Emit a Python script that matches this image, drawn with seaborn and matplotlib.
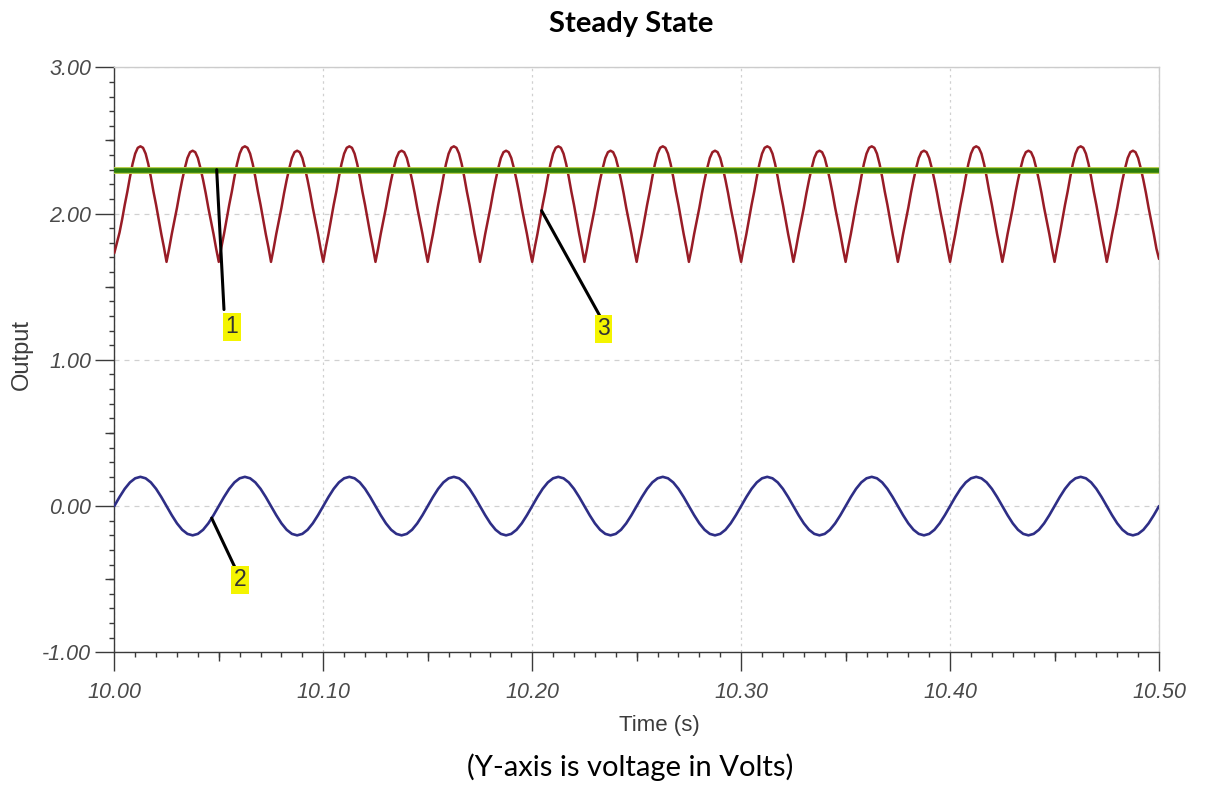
import numpy as np
import pandas as pd
import matplotlib
matplotlib.use("Agg")
import matplotlib.pyplot as plt
from matplotlib.ticker import MultipleLocator, NullLocator, FixedLocator
import seaborn as sns

# ---------------------------------------------------------------------------
# Data (volts). Sampled every 1.25 ms (rectified output) and 2.5 ms (input).
# ---------------------------------------------------------------------------
t_start, t_end = 10.00, 10.50

# Trace 3: rectified output, one row per ripple hump
rectified_volts = [
    1.73, 1.80, 1.87, 1.96, 2.06, 2.15, 2.25, 2.34, 2.41, 2.45, 2.46, 2.45, 2.41, 2.34, 2.25, 2.15, 2.06, 1.96, 1.86, 1.77,
    1.67, 1.76, 1.86, 1.95, 2.04, 2.14, 2.23, 2.31, 2.38, 2.42, 2.43, 2.42, 2.38, 2.31, 2.23, 2.14, 2.04, 1.95, 1.86, 1.76,
    1.67, 1.77, 1.86, 1.96, 2.06, 2.15, 2.25, 2.34, 2.41, 2.45, 2.46, 2.45, 2.41, 2.34, 2.25, 2.15, 2.06, 1.96, 1.86, 1.77,
    1.67, 1.76, 1.86, 1.95, 2.04, 2.14, 2.23, 2.31, 2.38, 2.42, 2.43, 2.42, 2.38, 2.31, 2.23, 2.14, 2.04, 1.95, 1.86, 1.76,
    1.67, 1.77, 1.86, 1.96, 2.06, 2.15, 2.25, 2.34, 2.41, 2.45, 2.46, 2.45, 2.41, 2.34, 2.25, 2.15, 2.06, 1.96, 1.86, 1.77,
    1.67, 1.76, 1.86, 1.95, 2.04, 2.14, 2.23, 2.31, 2.38, 2.42, 2.43, 2.42, 2.38, 2.31, 2.23, 2.14, 2.04, 1.95, 1.86, 1.76,
    1.67, 1.77, 1.86, 1.96, 2.06, 2.15, 2.25, 2.34, 2.41, 2.45, 2.46, 2.45, 2.41, 2.34, 2.25, 2.15, 2.06, 1.96, 1.86, 1.77,
    1.67, 1.76, 1.86, 1.95, 2.04, 2.14, 2.23, 2.31, 2.38, 2.42, 2.43, 2.42, 2.38, 2.31, 2.23, 2.14, 2.04, 1.95, 1.86, 1.76,
    1.67, 1.77, 1.86, 1.96, 2.06, 2.15, 2.25, 2.34, 2.41, 2.45, 2.46, 2.45, 2.41, 2.34, 2.25, 2.15, 2.06, 1.96, 1.86, 1.77,
    1.67, 1.76, 1.86, 1.95, 2.04, 2.14, 2.23, 2.31, 2.38, 2.42, 2.43, 2.42, 2.38, 2.31, 2.23, 2.14, 2.04, 1.95, 1.86, 1.76,
    1.67, 1.77, 1.86, 1.96, 2.06, 2.15, 2.25, 2.34, 2.41, 2.45, 2.46, 2.45, 2.41, 2.34, 2.25, 2.15, 2.06, 1.96, 1.86, 1.77,
    1.67, 1.76, 1.86, 1.95, 2.04, 2.14, 2.23, 2.31, 2.38, 2.42, 2.43, 2.42, 2.38, 2.31, 2.23, 2.14, 2.04, 1.95, 1.86, 1.76,
    1.67, 1.77, 1.86, 1.96, 2.06, 2.15, 2.25, 2.34, 2.41, 2.45, 2.46, 2.45, 2.41, 2.34, 2.25, 2.15, 2.06, 1.96, 1.86, 1.77,
    1.67, 1.76, 1.86, 1.95, 2.04, 2.14, 2.23, 2.31, 2.38, 2.42, 2.43, 2.42, 2.38, 2.31, 2.23, 2.14, 2.04, 1.95, 1.86, 1.76,
    1.67, 1.77, 1.86, 1.96, 2.06, 2.15, 2.25, 2.34, 2.41, 2.45, 2.46, 2.45, 2.41, 2.34, 2.25, 2.15, 2.06, 1.96, 1.86, 1.77,
    1.67, 1.76, 1.86, 1.95, 2.04, 2.14, 2.23, 2.31, 2.38, 2.42, 2.43, 2.42, 2.38, 2.31, 2.23, 2.14, 2.04, 1.95, 1.86, 1.76,
    1.67, 1.77, 1.86, 1.96, 2.06, 2.15, 2.25, 2.34, 2.41, 2.45, 2.46, 2.45, 2.41, 2.34, 2.25, 2.15, 2.06, 1.96, 1.86, 1.77,
    1.67, 1.76, 1.86, 1.95, 2.04, 2.14, 2.23, 2.31, 2.38, 2.42, 2.43, 2.42, 2.38, 2.31, 2.23, 2.14, 2.04, 1.95, 1.86, 1.76,
    1.67, 1.77, 1.86, 1.96, 2.06, 2.15, 2.25, 2.34, 2.41, 2.45, 2.46, 2.45, 2.41, 2.34, 2.25, 2.15, 2.06, 1.96, 1.86, 1.77,
    1.67, 1.76, 1.86, 1.95, 2.04, 2.14, 2.23, 2.31, 2.38, 2.42, 2.43, 2.42, 2.38, 2.31, 2.23, 2.14, 2.04, 1.95, 1.86, 1.76,
    1.69,
]

# Trace 2: AC input, one row per cycle
input_volts = [
    0.000, 0.062, 0.118, 0.162, 0.190, 0.200, 0.190, 0.162, 0.118, 0.062, 0.000, -0.062, -0.118, -0.162, -0.190, -0.200, -0.190, -0.162, -0.118, -0.062,
    0.000, 0.062, 0.118, 0.162, 0.190, 0.200, 0.190, 0.162, 0.118, 0.062, 0.000, -0.062, -0.118, -0.162, -0.190, -0.200, -0.190, -0.162, -0.118, -0.062,
    0.000, 0.062, 0.118, 0.162, 0.190, 0.200, 0.190, 0.162, 0.118, 0.062, 0.000, -0.062, -0.118, -0.162, -0.190, -0.200, -0.190, -0.162, -0.118, -0.062,
    0.000, 0.062, 0.118, 0.162, 0.190, 0.200, 0.190, 0.162, 0.118, 0.062, 0.000, -0.062, -0.118, -0.162, -0.190, -0.200, -0.190, -0.162, -0.118, -0.062,
    0.000, 0.062, 0.118, 0.162, 0.190, 0.200, 0.190, 0.162, 0.118, 0.062, 0.000, -0.062, -0.118, -0.162, -0.190, -0.200, -0.190, -0.162, -0.118, -0.062,
    0.000, 0.062, 0.118, 0.162, 0.190, 0.200, 0.190, 0.162, 0.118, 0.062, 0.000, -0.062, -0.118, -0.162, -0.190, -0.200, -0.190, -0.162, -0.118, -0.062,
    0.000, 0.062, 0.118, 0.162, 0.190, 0.200, 0.190, 0.162, 0.118, 0.062, 0.000, -0.062, -0.118, -0.162, -0.190, -0.200, -0.190, -0.162, -0.118, -0.062,
    0.000, 0.062, 0.118, 0.162, 0.190, 0.200, 0.190, 0.162, 0.118, 0.062, 0.000, -0.062, -0.118, -0.162, -0.190, -0.200, -0.190, -0.162, -0.118, -0.062,
    0.000, 0.062, 0.118, 0.162, 0.190, 0.200, 0.190, 0.162, 0.118, 0.062, 0.000, -0.062, -0.118, -0.162, -0.190, -0.200, -0.190, -0.162, -0.118, -0.062,
    0.000, 0.062, 0.118, 0.162, 0.190, 0.200, 0.190, 0.162, 0.118, 0.062, 0.000, -0.062, -0.118, -0.162, -0.190, -0.200, -0.190, -0.162, -0.118, -0.062,
    0.000,
]

# Trace 1: DC reference level
reference_time = [10.00, 10.50]
reference_volts = [2.30, 2.30]

x_ticks = [10.00, 10.10, 10.20, 10.30, 10.40, 10.50]
x_tick_labels = ["10.00", "10.10", "10.20", "10.30", "10.40", "10.50"]
y_ticks = [-1.0, 0.0, 1.0, 2.0, 3.0]
y_tick_labels = ["-1.00", "0.00", "1.00", "2.00", "3.00"]

# Numbered callouts: text, trace, time on trace, elbow (t, v), label centre (t, v)
callout_text = ["1", "2", "3"]
callout_trace = ["reference", "input", "rectified"]
callout_anchor_t = [10.049, 10.0466, 10.2045]
callout_end = [(10.0525, 1.344), (10.0578, -0.421), (10.2324, 1.30)]
callout_label = [(10.0563, 1.225), (10.0602, -0.505), (10.2342, 1.212)]

rectified_time = np.linspace(t_start, t_end, len(rectified_volts))
input_time = np.linspace(t_start, t_end, len(input_volts))

df_rect = pd.DataFrame({"Time (s)": rectified_time, "Output": rectified_volts})
df_in = pd.DataFrame({"Time (s)": input_time, "Output": input_volts})
df_ref = pd.DataFrame({"Time (s)": reference_time, "Output": reference_volts})

traces = {
    "rectified": (rectified_time, np.asarray(rectified_volts)),
    "input": (input_time, np.asarray(input_volts)),
    "reference": (np.asarray(reference_time), np.asarray(reference_volts)),
}

# ---------------------------------------------------------------------------
# Style
# ---------------------------------------------------------------------------
sns.set_theme(style="white")
plt.rcParams["font.family"] = ["Liberation Sans", "DejaVu Sans"]

fig = plt.figure(figsize=(12.12, 7.85), dpi=100)
fig.patch.set_facecolor("white")
ax = fig.add_axes([0.0943, 0.1690, 0.8620, 0.7452])
ax.set_facecolor("white")

ax.grid(True, which="major", axis="x", color="#d0d0d0", linewidth=0.9,
        linestyle=(0, (2, 3)), zorder=0)
ax.grid(True, which="major", axis="y", color="#d0d0d0", linewidth=0.9,
        linestyle=(0, (4, 4)), zorder=0)

sns.lineplot(data=df_rect, x="Time (s)", y="Output", ax=ax, color="#981c26",
             linewidth=1.8, zorder=3)
sns.lineplot(data=df_in, x="Time (s)", y="Output", ax=ax, color="#2e2e86",
             linewidth=1.9, zorder=3)
sns.lineplot(data=df_ref, x="Time (s)", y="Output", ax=ax, color="#b9cf4a",
             linewidth=5.0, zorder=4)
sns.lineplot(data=df_ref, x="Time (s)", y="Output", ax=ax, color="#2c7d0a",
             linewidth=3.3, zorder=5)

ax.set_xlim(t_start, t_end)
ax.set_ylim(-1.0, 3.0)
ax.set_xlabel("")
ax.set_ylabel("")

tick_font = dict(family=["Liberation Sans", "DejaVu Sans"], style="italic",
                 size=15.5, color="#4a4a4a")
ax.set_xticks(x_ticks)
ax.set_xticklabels(x_tick_labels, fontdict=tick_font)
ax.set_yticks(y_ticks)
ax.set_yticklabels(y_tick_labels, fontdict=tick_font)
ax.xaxis.set_minor_locator(MultipleLocator(0.01))
ax.yaxis.set_minor_locator(MultipleLocator(0.1))

axis_col = "#3a3a3a"
ax.tick_params(which="major", direction="out", length=13.7, width=1.0,
               color=axis_col, bottom=True, left=True)
ax.tick_params(axis="x", which="major", pad=8)
ax.tick_params(axis="y", which="major", pad=3)
ax.tick_params(which="minor", direction="out", length=3.4, width=1.0,
               color=axis_col, bottom=True, left=True)

# Half-step ticks, a little longer than the minor ones
sec_x = ax.secondary_xaxis("bottom")
sec_x.xaxis.set_major_locator(FixedLocator([10.05, 10.15, 10.25, 10.35, 10.45]))
sec_x.xaxis.set_minor_locator(NullLocator())
sec_x.tick_params(direction="out", length=6.5, width=1.0, color=axis_col,
                  labelbottom=False)
sec_x.spines["bottom"].set_visible(False)

sec_y = ax.secondary_yaxis("left")
sec_y.yaxis.set_major_locator(FixedLocator([-0.5, 0.5, 1.5, 2.5]))
sec_y.yaxis.set_minor_locator(NullLocator())
sec_y.tick_params(direction="out", length=6.5, width=1.0, color=axis_col,
                  labelleft=False)
sec_y.spines["left"].set_visible(False)

for side in ("left", "bottom"):
    ax.spines[side].set_color(axis_col)
    ax.spines[side].set_linewidth(1.0)
for side in ("top", "right"):
    ax.spines[side].set_color("#cccccc")
    ax.spines[side].set_linewidth(1.0)

# Callouts
for text, trace, t_anchor, end, lab in zip(callout_text, callout_trace,
                                           callout_anchor_t, callout_end,
                                           callout_label):
    tt, vv = traces[trace]
    v_anchor = float(np.interp(t_anchor, tt, vv))
    ax.annotate("", xy=(t_anchor, v_anchor), xytext=end,
                arrowprops=dict(arrowstyle="-", color="black", lw=2.2,
                                shrinkA=0, shrinkB=0), zorder=6)
    ax.text(lab[0], lab[1], text, ha="center", va="center", fontsize=16.5,
            color="#333333", family=["Liberation Sans", "DejaVu Sans"],
            bbox=dict(boxstyle="square,pad=0.1", facecolor="#f4f400",
                      edgecolor="none"), zorder=7)

# Axis titles, heading and caption
label_col = "#3c3c3c"
fig.text(659 / 1212, 1 - 725 / 785, "Time (s)", ha="center", va="center",
         fontsize=16, color=label_col, family=["Liberation Sans", "DejaVu Sans"])
fig.text(22 / 1212, 1 - 355 / 785, "Output", ha="center", va="center",
         rotation=90, fontsize=17, color=label_col,
         family=["Liberation Sans", "DejaVu Sans"])
fig.text(631 / 1212, 1 - 24 / 785, "Steady State", ha="center", va="center",
         fontsize=21, fontweight="bold", color="black",
         family=["Lato", "DejaVu Sans"])
fig.text(630 / 1212, 1 - 767 / 785, "(Y-axis is voltage in Volts)",
         ha="center", va="center", fontsize=21, color="black",
         family=["Lato", "DejaVu Sans"])

fig.savefig("out.png", dpi=100, facecolor="white")
